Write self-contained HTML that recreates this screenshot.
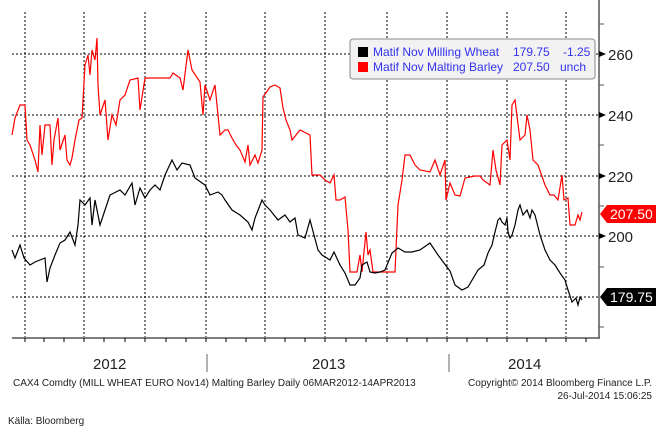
<!DOCTYPE html>
<html><head><meta charset="utf-8"><style>
body{margin:0;background:#fff;width:668px;height:434px;overflow:hidden;font-family:"Liberation Sans",sans-serif}
</style></head><body>
<svg width="668" height="434" xmlns="http://www.w3.org/2000/svg" font-family="Liberation Sans, sans-serif">
<g stroke="#000" stroke-width="1" stroke-dasharray="2,2">
<line x1="12" y1="54" x2="598" y2="54"/><line x1="12" y1="115" x2="598" y2="115"/>
<line x1="12" y1="176" x2="598" y2="176"/><line x1="12" y1="236" x2="598" y2="236"/>
<line x1="12" y1="297" x2="598" y2="297"/>
<line x1="25" y1="12" x2="25" y2="337"/><line x1="84" y1="12" x2="84" y2="337"/>
<line x1="145" y1="12" x2="145" y2="337"/><line x1="206" y1="12" x2="206" y2="337"/>
<line x1="265" y1="12" x2="265" y2="337"/><line x1="325" y1="12" x2="325" y2="337"/>
<line x1="387" y1="12" x2="387" y2="337"/><line x1="447" y1="12" x2="447" y2="337"/>
<line x1="507" y1="12" x2="507" y2="337"/><line x1="566" y1="12" x2="566" y2="337"/>
</g>
<line x1="12" y1="338" x2="600" y2="338" stroke="#555" stroke-width="1.5"/>
<line x1="599" y1="0" x2="599" y2="338" stroke="#555" stroke-width="1.5"/>
<g stroke="#555"><line x1="599" y1="24" x2="604" y2="24"/><line x1="599" y1="85" x2="604" y2="85"/><line x1="599" y1="145" x2="604" y2="145"/><line x1="599" y1="206" x2="604" y2="206"/><line x1="599" y1="267" x2="604" y2="267"/><line x1="599" y1="327" x2="604" y2="327"/></g>
<g fill="#000"><polygon points="599,51 606,54 599,57"/><polygon points="599,112 606,115 599,118"/><polygon points="599,173 606,176 599,179"/><polygon points="599,233 606,236 599,239"/></g>
<g font-size="15" fill="#222"><text x="608" y="60">260</text><text x="608" y="121">240</text><text x="608" y="182">220</text><text x="608" y="242">200</text></g>
<polygon points="600,214 607,205 656,205 656,223 607,223" fill="#f00"/>
<text x="610" y="219" font-size="14" fill="#fff">207.50</text>
<polygon points="600,297 607,288 656,288 656,306 607,306" fill="#000"/>
<text x="610" y="302" font-size="14" fill="#fff">179.75</text>
<polyline fill="none" stroke="#f00" stroke-width="1.2" points="12,135 15,118 20,105 25,105 27,140 30,145 35,160 38,172 40,125 42,155 45,125 50,125 52,165 54,140 58,118 60,150 65,135 67,160 70,165 72,158 75,140 79,120 82,118 85,65 88,55 90,75 92,50 95,60 97,38 98,85 100,115 105,100 108,140 112,115 116,125 120,100 125,95 130,80 138,78 140,110 145,78 170,78 173,73 180,78 183,90 188,50 192,70 200,82 203,115 205,85 210,100 215,85 220,135 225,130 228,130 232,138 236,145 240,150 245,162 248,145 250,165 255,155 258,163 262,150 263,97 270,87 275,85 280,88 283,108 286,120 290,130 292,140 296,135 300,130 310,135 312,175 320,175 325,180 330,183 334,175 336,200 340,200 345,197 348,230 350,272 357,272 360,255 362,272 366,232 368,255 370,250 373,272 380,272 395,272 398,205 402,180 405,155 410,155 415,165 420,170 430,172 435,160 440,175 445,160 446,200 450,183 455,195 460,196 465,178 475,176 480,176 483,180 490,185 493,150 496,170 500,185 502,145 507,140 510,160 512,105 515,100 520,140 525,135 527,115 530,130 533,160 538,165 545,185 550,195 554,195 558,200 562,175 564,200 568,198 570,225 575,225 578,215 580,220 582,212"/>
<polyline fill="none" stroke="#000" stroke-width="1.2" points="12,250 15,258 20,245 24,258 30,265 35,262 45,258 47,282 50,268 55,255 60,243 65,240 70,232 75,245 78,225 80,200 85,205 90,198 92,225 95,200 100,225 105,210 110,195 120,190 125,195 132,183 135,205 140,188 145,198 150,190 155,185 160,190 165,175 172,160 177,170 182,163 190,165 195,178 205,185 210,195 218,192 222,195 225,200 232,210 240,215 248,222 252,230 255,218 262,200 265,205 270,210 278,220 285,215 290,222 295,218 298,235 305,238 310,220 318,250 322,255 330,260 334,252 340,265 345,273 350,285 355,285 360,278 362,265 367,262 370,272 375,273 380,272 385,270 392,253 398,248 405,252 412,252 420,250 430,243 438,255 450,271 455,285 462,290 468,287 478,270 484,265 488,253 492,245 495,232 498,220 500,218 502,222 505,225 507,218 508,232 510,238 512,235 515,225 518,210 520,205 523,215 527,210 530,218 532,210 535,215 540,235 545,250 550,260 555,265 560,273 565,280 568,290 572,302 576,298 578,305 580,297 582,300"/>
<rect x="350" y="39" width="245" height="40" rx="3" fill="#f2f2f2" stroke="#888"/>
<rect x="358" y="47" width="10" height="10" fill="#000"/><rect x="358" y="62" width="10" height="10" fill="#f00"/>
<g font-size="12" fill="#3333ee"><text x="373" y="56">Matif Nov Milling Wheat</text><text x="513" y="56">179.75</text><text x="563" y="56">-1.25</text>
<text x="373" y="71">Matif Nov Malting Barley</text><text x="513" y="71">207.50</text><text x="560" y="71">unch</text></g>
<g stroke="#000"><line x1="25" y1="338" x2="25" y2="342"/><line x1="44" y1="338" x2="44" y2="342"/><line x1="64" y1="338" x2="64" y2="342"/><line x1="84" y1="338" x2="84" y2="342"/><line x1="104" y1="338" x2="104" y2="342"/><line x1="125" y1="338" x2="125" y2="342"/><line x1="145" y1="338" x2="145" y2="342"/><line x1="166" y1="338" x2="166" y2="342"/><line x1="186" y1="338" x2="186" y2="342"/><line x1="206" y1="338" x2="206" y2="342"/><line x1="226" y1="338" x2="226" y2="342"/><line x1="246" y1="338" x2="246" y2="342"/><line x1="265" y1="338" x2="265" y2="342"/><line x1="285" y1="338" x2="285" y2="342"/><line x1="305" y1="338" x2="305" y2="342"/><line x1="325" y1="338" x2="325" y2="342"/><line x1="346" y1="338" x2="346" y2="342"/><line x1="366" y1="338" x2="366" y2="342"/><line x1="387" y1="338" x2="387" y2="342"/><line x1="407" y1="338" x2="407" y2="342"/><line x1="427" y1="338" x2="427" y2="342"/><line x1="447" y1="338" x2="447" y2="342"/><line x1="467" y1="338" x2="467" y2="342"/><line x1="487" y1="338" x2="487" y2="342"/><line x1="507" y1="338" x2="507" y2="342"/><line x1="527" y1="338" x2="527" y2="342"/><line x1="546" y1="338" x2="546" y2="342"/><line x1="566" y1="338" x2="566" y2="342"/><line x1="586" y1="338" x2="586" y2="342"/></g>
<g stroke="#999" stroke-width="1.5"><line x1="207" y1="354" x2="207" y2="372"/><line x1="449" y1="354" x2="449" y2="372"/></g>
<g font-size="15" fill="#222"><text x="93" y="369">2012</text><text x="312" y="369">2013</text><text x="508" y="369">2014</text></g>
<g font-size="10" fill="#222"><text x="13" y="386">CAX4 Comdty (MILL WHEAT EURO  Nov14) Malting Barley  Daily 06MAR2012-14APR2013</text>
<text x="652" y="386" text-anchor="end">Copyright© 2014 Bloomberg Finance L.P.</text>
<text x="652" y="399" text-anchor="end">26-Jul-2014 15:06:25</text>
<text x="8" y="424">Källa: Bloomberg</text></g>
</svg>
</body></html>
